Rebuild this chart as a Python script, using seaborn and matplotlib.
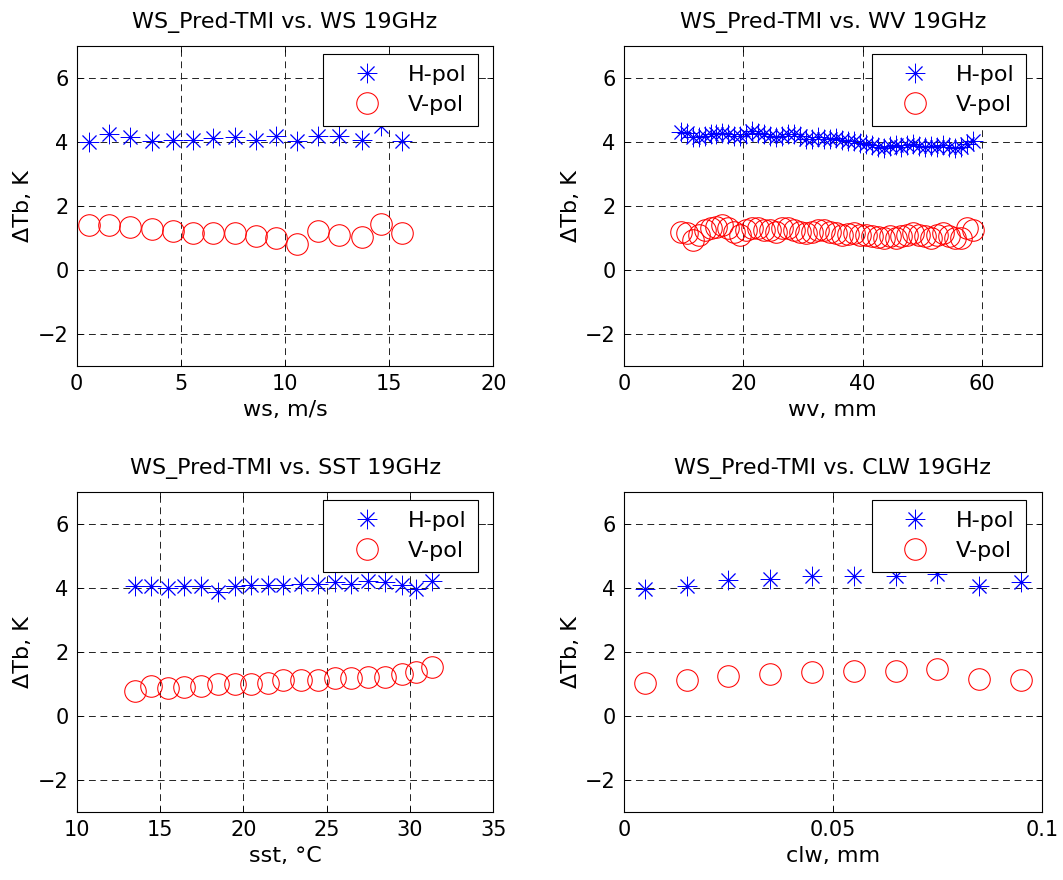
import numpy as np
import pandas as pd
import matplotlib
matplotlib.use('Agg')
import matplotlib.pyplot as plt
import seaborn as sns

# ---- data ----
ws_x = [0.6, 1.55, 2.55, 3.6, 4.6, 5.6, 6.55, 7.6, 8.6, 9.55, 10.55, 11.6, 12.6, 13.7, 14.6, 15.6]
ws_h = [4.0, 4.24, 4.17, 4.04, 4.08, 4.08, 4.13, 4.17, 4.08, 4.2, 4.04, 4.2, 4.2, 4.08, 4.5, 4.02]
ws_v = [1.41, 1.42, 1.35, 1.28, 1.23, 1.15, 1.15, 1.15, 1.06, 0.99, 0.81, 1.23, 1.09, 1.02, 1.44, 1.15]

wv_x = [9.5, 10.5, 11.5, 12.5, 13.5, 14.5, 15.5, 16.5, 17.5, 18.5,
        19.5, 20.5, 21.5, 22.5, 23.5, 24.5, 25.5, 26.5, 27.5, 28.5,
        29.5, 30.5, 31.5, 32.5, 33.5, 34.5, 35.5, 36.5, 37.5, 38.5,
        39.5, 40.5, 41.5, 42.5, 43.5, 44.5, 45.5, 46.5, 47.5, 48.5,
        49.5, 50.5, 51.5, 52.5, 53.5, 54.5, 55.5, 56.5, 57.5, 58.5]
wv_h = [4.32, 4.27, 4.17, 4.15, 4.2, 4.25, 4.25, 4.3, 4.25, 4.2,
        4.2, 4.25, 4.35, 4.3, 4.25, 4.2, 4.15, 4.2, 4.25, 4.25,
        4.2, 4.1, 4.1, 4.15, 4.1, 4.1, 4.12, 4.08, 4.05, 4.02,
        3.98, 3.95, 3.9, 3.85, 3.82, 3.88, 3.9, 3.85, 3.92, 3.95,
        3.88, 3.85, 3.88, 3.85, 3.9, 3.85, 3.82, 3.85, 3.95, 4.05]
wv_v = [1.2, 1.15, 0.95, 1.1, 1.25, 1.3, 1.35, 1.4, 1.3, 1.2,
        1.1, 1.25, 1.3, 1.3, 1.25, 1.25, 1.2, 1.3, 1.3, 1.25,
        1.2, 1.15, 1.2, 1.25, 1.25, 1.2, 1.15, 1.1, 1.12, 1.15,
        1.1, 1.1, 1.05, 1.02, 1.0, 1.05, 1.0, 1.05, 1.1, 1.15,
        1.1, 1.05, 1.0, 1.1, 1.15, 1.05, 1.0, 1.0, 1.3, 1.25]

sst_x = [13.5, 14.45, 15.45, 16.45, 17.45, 18.45, 19.5, 20.45, 21.45, 22.4,
         23.45, 24.45, 25.5, 26.45, 27.5, 28.5, 29.5, 30.35, 31.3]
sst_h = [4.05, 4.05, 4.0, 4.05, 4.05, 3.86, 4.05, 4.08, 4.08, 4.08,
         4.13, 4.13, 4.18, 4.13, 4.23, 4.18, 4.08, 3.98, 4.21]
sst_v = [0.79, 0.95, 0.88, 0.92, 0.95, 1.0, 1.0, 1.0, 1.02, 1.11,
         1.13, 1.13, 1.19, 1.19, 1.23, 1.23, 1.3, 1.37, 1.53]

clw_x = [0.005, 0.015, 0.025, 0.035, 0.045, 0.055, 0.065, 0.075, 0.085, 0.095]
clw_h = [3.97, 4.07, 4.24, 4.28, 4.36, 4.36, 4.37, 4.45, 4.07, 4.18]
clw_v = [1.04, 1.12, 1.24, 1.30, 1.38, 1.41, 1.41, 1.48, 1.17, 1.12]

panels = [
    ('WS_Pred-TMI vs. WS 19GHz', 'ws, m/s', ws_x, ws_h, ws_v, (0, 20), [0, 5, 10, 15, 20], ['0', '5', '10', '15', '20']),
    ('WS_Pred-TMI vs. WV 19GHz', 'wv, mm', wv_x, wv_h, wv_v, (0, 70), [0, 20, 40, 60], ['0', '20', '40', '60']),
    ('WS_Pred-TMI vs. SST 19GHz', 'sst, \u00b0C', sst_x, sst_h, sst_v, (10, 35), [10, 15, 20, 25, 30, 35], ['10', '15', '20', '25', '30', '35']),
    ('WS_Pred-TMI vs. CLW 19GHz', 'clw, mm', clw_x, clw_h, clw_v, (0, 0.1), [0, 0.05, 0.1], ['0', '0.05', '0.1']),
]
y_ticks = [-2, 0, 2, 4, 6]

sns.set_theme(style='ticks')
plt.rcParams['font.family'] = ['DejaVu Sans']
plt.rcParams['text.color'] = 'black'
plt.rcParams['axes.labelcolor'] = 'black'
plt.rcParams['xtick.color'] = 'black'
plt.rcParams['ytick.color'] = 'black'
plt.rcParams['xtick.direction'] = 'in'
plt.rcParams['ytick.direction'] = 'in'
plt.rcParams['xtick.top'] = True
plt.rcParams['ytick.right'] = True
plt.rcParams['axes.edgecolor'] = 'black'
plt.rcParams['axes.linewidth'] = 0.8

fig = plt.figure(figsize=(10.63, 8.8), dpi=100)
positions = [
    [0.0722, 0.584, 0.392, 0.3636],
    [0.587, 0.584, 0.393, 0.3636],
    [0.0722, 0.0773, 0.392, 0.3636],
    [0.587, 0.0773, 0.393, 0.3636],
]

star = (8, 2, 0)

for pos, (title, xlabel, x, h, v, xlim, xt, xtl) in zip(positions, panels):
    ax = fig.add_axes(pos)
    df = pd.DataFrame({'x': x, 'h': h, 'v': v})
    sns.lineplot(data=df, x='x', y='h', ax=ax, linestyle='none', marker=star,
                 markersize=14, markeredgecolor='blue', markeredgewidth=0.65,
                 color='blue', label='H-pol')
    sns.lineplot(data=df, x='x', y='v', ax=ax, linestyle='none', marker='o',
                 markersize=15.5, markerfacecolor='none', markeredgecolor='red',
                 markeredgewidth=0.75, color='red', label='V-pol')
    ax.set_xlim(*xlim)
    ax.set_ylim(-3, 7)
    ax.set_xticks(xt)
    ax.set_xticklabels(xtl)
    ax.set_yticks(y_ticks)
    ax.tick_params(labelsize=15, length=4, width=0.6, color='black', pad=6)
    ax.grid(True, color='#222222', linestyle=(0, (7, 4.8)), linewidth=0.7)
    ax.set_title(title, fontsize=16, pad=13)
    ax.set_xlabel(xlabel, fontsize=16, labelpad=4)
    ax.set_ylabel('\u0394Tb, K', fontsize=16, labelpad=3)
    leg = ax.legend(loc='upper right', bbox_to_anchor=(0.962, 0.975), fontsize=16,
                    frameon=True, fancybox=False, edgecolor='black', framealpha=1,
                    borderpad=0.5, handlelength=2.9, handletextpad=0.4,
                    labelspacing=0.45, borderaxespad=0)
    leg.get_frame().set_linewidth(0.8)

fig.savefig('out.png', dpi=100)
